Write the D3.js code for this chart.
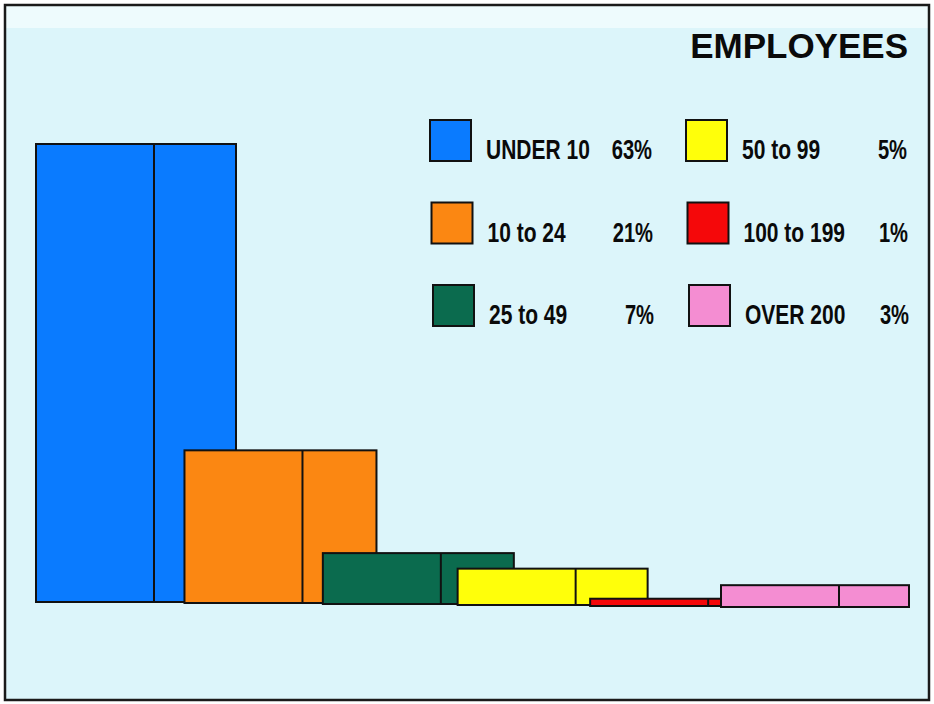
<!DOCTYPE html>
<html>
<head>
<meta charset="utf-8">
<script src="https://cdn.jsdelivr.net/npm/d3@7/dist/d3.min.js"></script>
<style>
  html, body { margin: 0; padding: 0; background: #ffffff; }
  svg { display: block; }
</style>
</head>
<body>
<svg id="chart" width="934" height="704"></svg>
<script>
// Employee size bands and their share of firms (%)
const categories = ["UNDER 10", "10 to 24", "25 to 49", "50 to 99", "100 to 199", "OVER 200"];
const shares = [63, 21, 7, 5, 1, 3];
const shareLabels = ["63%", "21%", "7%", "5%", "1%", "3%"];
const colors = ["#0a7bff", "#fb8712", "#0b6b4e", "#ffff0a", "#f5080a", "#f48dd2"];
const title = "EMPLOYEES";

const svg = d3.select("#chart");

// panel background and frame
svg.append("rect").attr("x", 5).attr("y", 5).attr("width", 924).attr("height", 695)
  .attr("fill", "#dcf5fa");
svg.append("rect").attr("x", 6).attr("y", 6).attr("width", 922).attr("height", 22)
  .attr("fill", "#eefbfd");
svg.append("rect").attr("x", 5).attr("y", 5).attr("width", 924).attr("height", 695)
  .attr("fill", "none").attr("stroke", "#1a1a1a").attr("stroke-width", 2.5);

// scales: boxes recede slightly, so spacing tightens along the row
const n = categories.length;
const xIdx = d3.scalePow().exponent(0.95).domain([0, n - 1]).range([36, 721]);
const x = cat => xIdx(categories.indexOf(cat));
const y = d3.scaleLinear().domain([0, 63]).range([0, 458]);
const base = d3.scaleLinear().domain([0, n - 1]).range([602, 607]);
const side = d3.scaleLinear().domain([0, 1, n - 1]).range([82, 74, 70]);
const frontW = 118;

const data = categories.map((c, i) => ({ cat: c, v: shares[i], color: colors[i], i }));

const bars = svg.append("g").attr("class", "bars");
data.forEach(d => {
  const g = bars.append("g");
  const x0 = x(d.cat), yb = base(d.i), h = y(d.v);
  g.append("rect")
    .attr("x", x0).attr("y", yb - h)
    .attr("width", frontW + side(d.i)).attr("height", h)
    .attr("fill", d.color).attr("stroke", "#111").attr("stroke-width", 2);
  g.append("line")
    .attr("x1", x0 + frontW).attr("x2", x0 + frontW)
    .attr("y1", yb - h).attr("y2", yb)
    .attr("stroke", "#111").attr("stroke-width", 2);
});

// title
svg.append("text")
  .attr("x", 908).attr("y", 58)
  .attr("text-anchor", "end")
  .attr("font-family", "Liberation Sans, Arial, sans-serif")
  .attr("font-weight", "bold").attr("font-size", 35)
  .attr("fill", "#0a0a0a")
  .text(title);

// legend: two columns of three rows
const colX = [430, 686];
const pctRight = [652, 907];
const rowY = d3.scaleLinear().domain([0, 2]).range([140, 305]);
const leg = svg.append("g").attr("class", "legend");
data.forEach(d => {
  const col = Math.floor(d.i / 3), row = d.i % 3;
  const cx = colX[col] + row * 1.5, cy = rowY(row);
  leg.append("rect")
    .attr("x", cx).attr("y", cy - 20).attr("width", 41).attr("height", 41)
    .attr("fill", d.color).attr("stroke", "#111").attr("stroke-width", 2);
  leg.append("g")
    .attr("transform", `translate(${cx + 56},${cy + 19}) scale(0.75,1)`)
    .append("text")
    .attr("font-family", "Liberation Sans, Arial, sans-serif")
    .attr("font-weight", "bold").attr("font-size", 28)
    .attr("fill", "#0a0a0a")
    .text(d.cat);
  leg.append("g")
    .attr("transform", `translate(${pctRight[col] + row},${cy + 19}) scale(0.72,1)`)
    .append("text")
    .attr("text-anchor", "end")
    .attr("font-family", "Liberation Sans, Arial, sans-serif")
    .attr("font-weight", "bold").attr("font-size", 28)
    .attr("fill", "#0a0a0a")
    .text(shareLabels[d.i]);
});
</script>
</body>
</html>
